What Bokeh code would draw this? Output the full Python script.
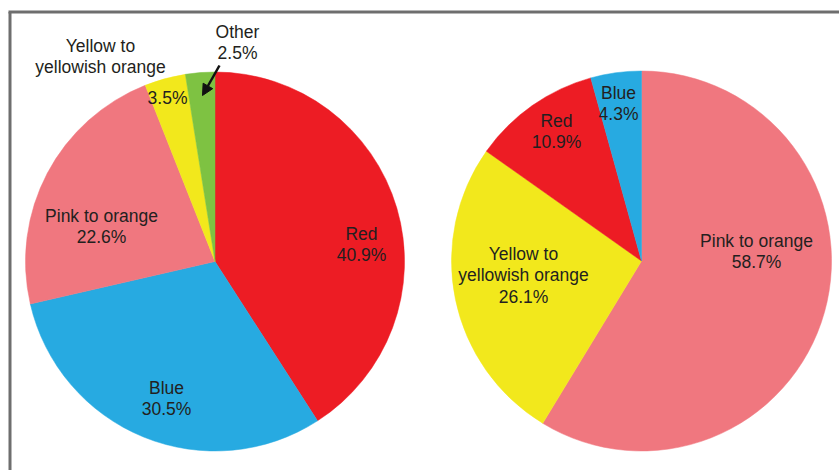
import numpy as np
from bokeh.plotting import figure
from bokeh.models import Range1d, Arrow, NormalHead, ColumnDataSource
from bokeh.core.properties import value
from bokeh.embed import file_html
from bokeh.resources import INLINE

# ---------------- data ----------------
left_categories = ["Red", "Blue", "Pink to orange", "Yellow to yellowish orange", "Other"]
left_values = [40.9, 30.5, 22.6, 3.5, 2.5]
left_colors = ["#ED1C24", "#27AAE1", "#F0777F", "#F2E81C", "#7EC242"]

right_categories = ["Pink to orange", "Yellow to yellowish orange", "Red", "Blue"]
right_values = [58.7, 26.1, 10.9, 4.3]
right_colors = ["#F0777F", "#F2E81C", "#ED1C24", "#27AAE1"]

# ---------------- layout ----------------
W, H = 839, 470
FONT = "Liberation Sans"
TXT_COLOR = "#231F20"
FS = "17.5px"

p = figure(width=W, height=H, output_backend="svg", toolbar_location=None,
           x_range=Range1d(0, W), y_range=Range1d(0, H), min_border=0)
p.axis.visible = False
p.grid.visible = False
p.outline_line_color = None
p.background_fill_color = "white"


def Y(py):
    return H - py


def add_pie(cx, cy, r, vals, colors):
    v = np.array(vals, dtype=float)
    frac = v / v.sum()
    cum = np.concatenate([[0], np.cumsum(frac)])
    start = np.pi / 2 - 2 * np.pi * cum[:-1]
    end = np.pi / 2 - 2 * np.pi * cum[1:]
    src = ColumnDataSource(dict(x=[cx] * len(v), y=[Y(cy)] * len(v),
                                start=start, end=end, color=colors))
    p.wedge(x="x", y="y", radius=r, start_angle="start", end_angle="end",
            direction="clock", fill_color="color", line_color="color",
            line_width=0.5, source=src)


add_pie(214.5, 261, 189.5, left_values, left_colors)
add_pie(641, 260.5, 190, right_values, right_colors)


def pct(v):
    return f"{v:.1f}%"


# label placements: (lines, centre x, first line y) in screen pixels
labels = [
    (["Yellow to", "yellowish orange"], 100, 45),
    ([pct(left_values[3])], 167, 97),
    (["Other", pct(left_values[4])], 237, 31),
    (["Pink to orange", pct(left_values[2])], 101, 215),
    (["Red", pct(left_values[0])], 361, 233),
    (["Blue", pct(left_values[1])], 166, 387),
    (["Blue", pct(right_values[3])], 618, 92),
    (["Red", pct(right_values[2])], 556, 120),
    (["Pink to orange", pct(right_values[0])], 756, 240),
    (["Yellow to", "yellowish orange", pct(right_values[1])], 523, 253),
]
xs, ys, ts = [], [], []
for lines, x, y0 in labels:
    for i, t in enumerate(lines):
        xs.append(x)
        ys.append(Y(y0 + i * 21.5))
        ts.append(t)
p.text(x=xs, y=ys, text=ts, text_font=value(FONT), text_font_size=FS,
       text_color=TXT_COLOR, text_align="center", text_baseline="middle")

# arrow pointing to the "Other" slice
p.add_layout(Arrow(end=NormalHead(size=11, fill_color="#111111", line_color="#111111"),
                   x_start=219, y_start=Y(65), x_end=202, y_end=Y(95),
                   line_color="#111111", line_width=2.5))

# frame
p.line(x=[9.5, 9.5], y=[Y(H + 5), Y(11.5)], line_color="#6E6E6E", line_width=3)
p.line(x=[8, W + 5], y=[Y(11.5), Y(11.5)], line_color="#6E6E6E", line_width=3)

open("out.html", "w").write(file_html(p, INLINE))
